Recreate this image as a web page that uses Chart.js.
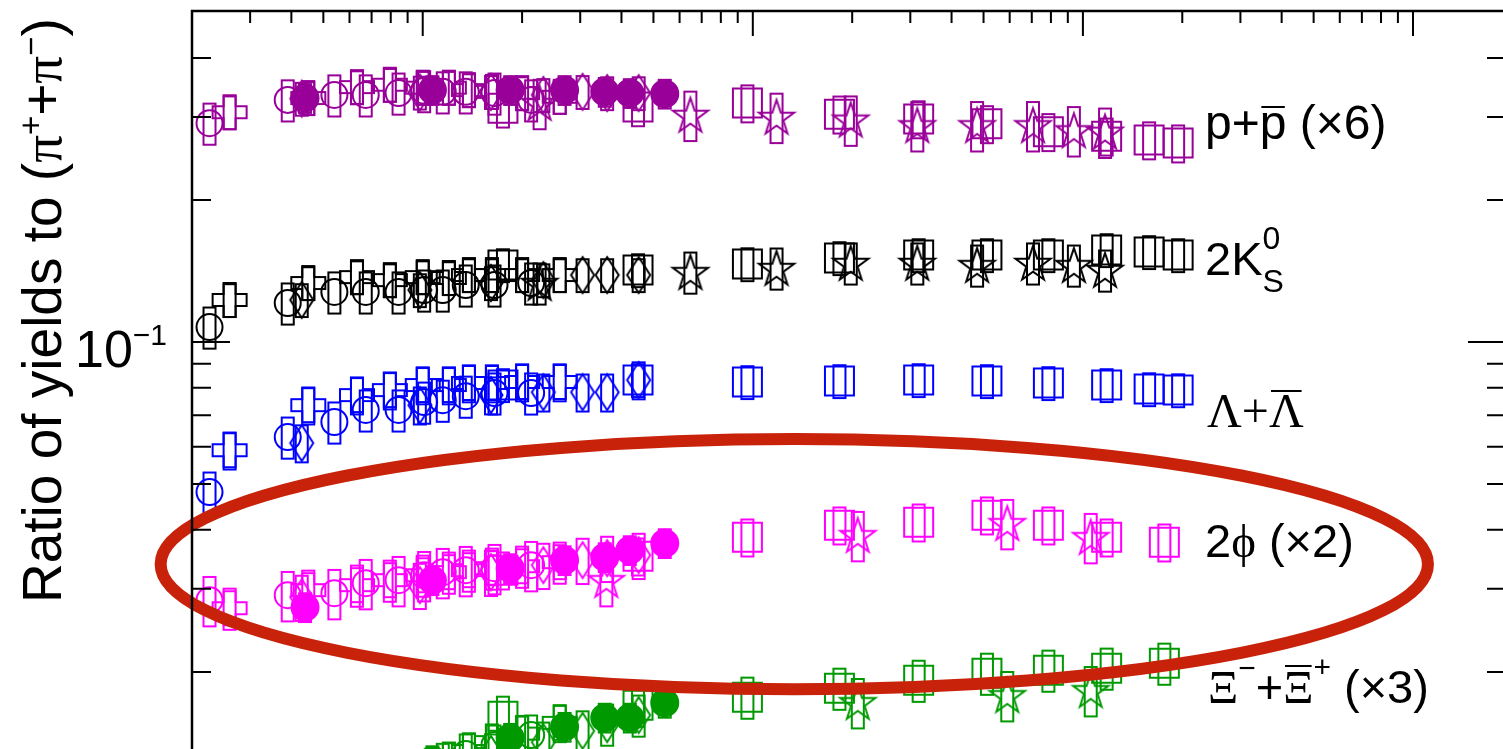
<!DOCTYPE html>
<html>
<head>
<meta charset="utf-8">
<script src="https://cdn.jsdelivr.net/npm/chart.js@4.4.1/dist/chart.umd.min.js"></script>
<style>
  html, body { margin: 0; padding: 0; background: #fff; overflow: hidden; }
  #wrap { position: relative; width: 1506px; height: 749px; }
</style>
</head>
<body>
<div id="wrap"><canvas id="myChart"></canvas></div>
<script>
// multiplicity classes (x), one array per collision system / marker
const xPP7    = [2.26, 3.90, 5.40, 6.72, 8.45, 10.1, 11.5, 13.5, 16.5, 21.3]
const xPP13   = [2.6, 4.5, 6.32, 7.95, 10.0, 12.0, 13.8, 16.2, 20.0, 26.0]
const xPPb    = [4.3, 9.8, 16.1, 23.2, 30.5, 36.2, 45.1]
const xPPbHM  = [4.4, 10.7, 18.4, 26.9, 35.6, 42.4, 54.1]
const xXeXe   = [22.6, 64.7, 118, 198, 315, 478, 706, 939, 1167]
const xXeXeW  = [36, 208, 590, 1056]
const xPbPb   = [17.5, 44.9, 96.3, 183, 318, 512, 786, 1180, 1587, 1943]
const xPbPbW  = [17.5, 44.9, 96.3, 183, 318, 512, 786, 1180, 1765]

// p + pbar (x6)
const protonPP7   = [0.291, 0.326, 0.334, 0.334, 0.337, 0.341, 0.339, 0.339, 0.337, 0.326]
const protonPP13  = [0.307, 0.329, 0.347, 0.351, 0.346, 0.346, 0.342, 0.339, 0.337, 0.331]
const protonPPb   = [0.328, 0.338, 0.339, 0.334, 0.339, 0.337, 0.337]
const protonPPbHM = [0.329, 0.342, 0.342, 0.342, 0.339, 0.337, 0.336]
const protonXeXe  = [0.321, 0.303, 0.300, 0.296, 0.288, 0.288, 0.288, 0.281, 0.279]
const protonPbPb  = [0.313, 0.315, 0.321, 0.304, 0.297, 0.290, 0.279, 0.273, 0.268, 0.264]

// 2 K0S
const kaonPP7  = [0.1076, 0.121, 0.1277, 0.1277, 0.1277, 0.1289, 0.1289, 0.1321, 0.1321, 0.1334]
const kaonPP13 = [0.1228, 0.1334, 0.1373, 0.1353, 0.1373, 0.1367, 0.1387, 0.1387, 0.1387, 0.1387]
const kaonPPb  = [0.1228, 0.1289, 0.1334, 0.1353, 0.1387, 0.1387, 0.1387]
const kaonXeXe = [0.1334, 0.1407, 0.1435, 0.1471, 0.1471, 0.1456, 0.1471, 0.1456, 0.1421]
const kaonPbPb = [0.1456, 0.1421, 0.1463, 0.1507, 0.1529, 0.1529, 0.1529, 0.1567, 0.1552, 0.1529]

// Lambda + Lambdabar
const lambdaPP7  = [0.0481, 0.0629, 0.0677, 0.0718, 0.0718, 0.0746, 0.0753, 0.0768, 0.078, 0.078]
const lambdaPP13 = [0.059, 0.0735, 0.0772, 0.0791, 0.0811, 0.0811, 0.0819, 0.0819, 0.0823, 0.0823]
const lambdaPPb  = [0.0611, 0.0735, 0.0772, 0.0783, 0.0783, 0.0783, 0.0831]
const lambdaPbPb = [0.0811, 0.0831, 0.0823, 0.0827, 0.0831, 0.0827, 0.0819, 0.0811, 0.0795, 0.0791]

// 2 phi (x2)
const phiPP7   = [0.02838, 0.02908, 0.02937, 0.03084, 0.03129, 0.03206, 0.03254, 0.03286, 0.03318, 0.03367]
const phiPP13  = [0.02729, 0.0298, 0.03054, 0.03129, 0.03206, 0.03254, 0.03286, 0.03318, 0.0335, 0.03417]
const phiPPb   = [0.0288, 0.03054, 0.03254, 0.03367, 0.0345, 0.03484, 0.03535]
const phiPPbHM = [0.02743, 0.03129, 0.03318, 0.0345, 0.03501, 0.03623, 0.03749]
const phiXeXe  = [0.03129, 0.03898, 0.04133, 0.0386]
const phiPbPb  = [0.03286, 0.03518, 0.0386, 0.04093, 0.04153, 0.04298, 0.04093, 0.0386, 0.03767]

// Xi + Xibar (x3)
const xiPP7   = [0.0085, 0.0096, 0.0104, 0.0110, 0.0116, 0.0122, 0.0128, 0.0134, 0.0140, 0.0147]
const xiPP13  = [0.0088, 0.0102, 0.0112, 0.0118, 0.0124, 0.0130, 0.0136, 0.0142, 0.0148, 0.0156]
const xiPPb   = [0.0100, 0.0122, 0.0134, 0.0142, 0.0150, 0.0155, 0.0162]
const xiPPbHM = [0.0102, 0.0130, 0.0145, 0.0153, 0.0160, 0.0160, 0.0172]
const xiXeXe  = [null, 0.01725, 0.01785, 0.01829]
const xiPbPb  = [0.01611, 0.0170, 0.01768, 0.01847, 0.0192, 0.01987, 0.02017, 0.02037, 0.02087]

// axis ticks
const xMajorTicks = [10, 100, 1000, 10000]
const xMinorTicks = [3, 4, 5, 6, 7, 8, 9, 20, 30, 40, 50, 60, 70, 80, 90,
    200, 300, 400, 500, 600, 700, 800, 900, 2000, 3000, 4000, 5000, 6000, 7000, 8000, 9000]
const yMajorTicks = [0.1]
const yMinorTicks = [0.02, 0.03, 0.04, 0.05, 0.06, 0.07, 0.08, 0.09, 0.2, 0.3, 0.4]

// highlight ellipse, given by its bounding values
const ellipseX = [1.607, 11100]
const ellipseY = [0.01838, 0.06228]

const SANS = '"Liberation Sans", Arial, Helvetica, sans-serif'
const SERIF = '"Liberation Serif", "DejaVu Serif", "Times New Roman", serif'

const PURPLE = '#990099', BLACK = '#000000', BLUE = '#0000ff', MAGENTA = '#ff00ff', GREEN = '#009900'

const makeMarker = (kind, color) => {
    const c = document.createElement('canvas')
    c.width = 42; c.height = 42
    const g = c.getContext('2d')
    g.strokeStyle = color
    g.lineWidth = 2
    g.translate(21, 21)
    g.beginPath()
    let pts = []
    if (kind === 'cross') {
        const h = 17, a = 6
        pts = [[-a,-h],[a,-h],[a,-a],[h,-a],[h,a],[a,a],[a,h],[-a,h],[-a,a],[-h,a],[-h,-a],[-a,-a]]
    } else if (kind === 'star') {
        for (let i = 0; i < 10; i++) {
            const r = i % 2 ? 7.2 : 18.5
            const ang = -Math.PI / 2 + i * Math.PI / 5
            pts.push([r * Math.cos(ang), r * Math.sin(ang) + 1.5])
        }
    } else if (kind === 'diamond') {
        pts = [[0,-18],[11.5,0],[0,18],[-11.5,0]]
    }
    pts.forEach((p, i) => i ? g.lineTo(p[0], p[1]) : g.moveTo(p[0], p[1]))
    g.closePath()
    g.stroke()
    return c
}

const points = (xs, ys) => xs.map((x, i) => ({ x, y: ys[i] })).filter(p => p.y != null)

const series = (label, xs, ys, marker, color, syst) => {
    const ds = {
        label,
        data: points(xs, ys),
        borderColor: color,
        backgroundColor: 'rgba(0,0,0,0)',
        borderWidth: 2,
        pointRadius: 13,
        syst,
        boxHalf: 6,
    }
    if (marker === 'circle') ds.pointStyle = 'circle'
    else if (marker === 'filled') { ds.pointStyle = 'circle'; ds.backgroundColor = color; ds.pointRadius = 13.5 }
    else if (marker === 'square') { ds.pointStyle = 'rect'; ds.pointRadius = 20.5 }
    else { ds.pointStyle = makeMarker(marker, color); ds.pointRadius = 17 }
    return ds
}

const datasets = [
    series('p pp7', xPP7, protonPP7, 'circle', PURPLE, 0.10),
    series('p pp13', xPP13, protonPP13, 'cross', PURPLE, 0.08),
    series('p pPb', xPPb, protonPPb, 'diamond', PURPLE, 0.08),
    series('p pPb HM', xPPbHM, protonPPbHM, 'filled', PURPLE, 0.07),
    series('p XeXe', xXeXe, protonXeXe, 'star', PURPLE, 0.12),
    series('p PbPb', xPbPb, protonPbPb, 'square', PURPLE, 0.09),

    series('K pp7', xPP7, kaonPP7, 'circle', BLACK, 0.10),
    series('K pp13', xPP13, kaonPP13, 'cross', BLACK, 0.08),
    series('K pPb', xPPb, kaonPPb, 'diamond', BLACK, 0.08),
    series('K XeXe', xXeXe, kaonXeXe, 'star', BLACK, 0.10),
    series('K PbPb', xPbPb, kaonPbPb, 'square', BLACK, 0.08),

    series('L pp7', xPP7, lambdaPP7, 'circle', BLUE, 0.10),
    series('L pp13', xPP13, lambdaPP13, 'cross', BLUE, 0.09),
    series('L pPb', xPPb, lambdaPPb, 'diamond', BLUE, 0.09),
    series('L PbPb', xPbPb, lambdaPbPb, 'square', BLUE, 0.08),

    series('phi pp7', xPP7, phiPP7, 'circle', MAGENTA, 0.12),
    series('phi pp13', xPP13, phiPP13, 'cross', MAGENTA, 0.10),
    series('phi pPb', xPPb, phiPPb, 'diamond', MAGENTA, 0.11),
    series('phi pPb HM', xPPbHM, phiPPbHM, 'filled', MAGENTA, 0.07),
    series('phi XeXe', xXeXeW, phiXeXe, 'star', MAGENTA, 0.12),
    series('phi PbPb', xPbPbW, phiPbPb, 'square', MAGENTA, 0.09),

    series('Xi pp7', xPP7, xiPP7, 'circle', GREEN, 0.10),
    series('Xi pp13', xPP13, xiPP13, 'cross', GREEN, 0.09),
    series('Xi pPb', xPPb, xiPPb, 'diamond', GREEN, 0.10),
    series('Xi pPb HM', xPPbHM, xiPPbHM, 'filled', GREEN, 0.07),
    series('Xi XeXe', xXeXeW, xiXeXe, 'star', GREEN, 0.12),
    series('Xi PbPb', xPbPbW, xiPbPb, 'square', GREEN, 0.10),
]

// systematic boxes behind markers
const systBoxes = {
    id: 'systBoxes',
    beforeDatasetsDraw(chart) {
        const { ctx, chartArea: a, scales: { x, y } } = chart
        ctx.save()
        ctx.beginPath()
        ctx.rect(a.left, a.top, a.right - a.left, a.bottom - a.top)
        ctx.clip()
        ctx.lineWidth = 2
        chart.data.datasets.forEach(ds => {
            ctx.strokeStyle = ds.borderColor
            ds.data.forEach(p => {
                const px = x.getPixelForValue(p.x)
                const top = y.getPixelForValue(p.y * (1 + ds.syst))
                const bot = y.getPixelForValue(p.y * (1 - ds.syst))
                ctx.strokeRect(px - ds.boxHalf, top, 2 * ds.boxHalf, bot - top)
            })
        })
        ctx.restore()
    }
}

const drawRuns = (ctx, x, y, runs) => {
    runs.forEach(r => {
        ctx.font = r.font
        const w = ctx.measureText(r.t).width
        ctx.fillText(r.t, x, y + (r.dy || 0))
        if (r.bar) ctx.fillRect(x + w * 0.06, y + r.bar, w * 0.88, 2)
        x += r.adv != null ? r.adv : w
    })
}

const frameAndText = {
    id: 'frameAndText',
    afterDraw(chart) {
        const { ctx, chartArea: a, scales: { x, y } } = chart
        ctx.save()

        // highlight ellipse
        const ex0 = x.getPixelForValue(ellipseX[0]), ex1 = x.getPixelForValue(ellipseX[1])
        const ey0 = y.getPixelForValue(ellipseY[1]), ey1 = y.getPixelForValue(ellipseY[0])
        ctx.strokeStyle = '#c8230a'
        ctx.lineWidth = 12
        ctx.beginPath()
        ctx.ellipse((ex0 + ex1) / 2, (ey0 + ey1) / 2, (ex1 - ex0) / 2, (ey1 - ey0) / 2, 0, 0, 2 * Math.PI)
        ctx.stroke()

        // frame
        ctx.strokeStyle = '#000'
        ctx.lineWidth = 2.5
        ctx.beginPath()
        ctx.moveTo(a.left, a.bottom)
        ctx.lineTo(a.left, a.top)
        ctx.lineTo(a.right, a.top)
        ctx.stroke()

        ctx.lineWidth = 2
        ctx.beginPath()
        xMajorTicks.forEach(v => { const p = x.getPixelForValue(v); ctx.moveTo(p, a.top); ctx.lineTo(p, a.top + 25) })
        xMinorTicks.forEach(v => { const p = x.getPixelForValue(v); ctx.moveTo(p, a.top); ctx.lineTo(p, a.top + 12) })
        yMajorTicks.forEach(v => {
            const p = y.getPixelForValue(v)
            ctx.moveTo(a.left, p); ctx.lineTo(a.left + 38, p)
            ctx.moveTo(a.right, p); ctx.lineTo(a.right - 38, p)
        })
        yMinorTicks.forEach(v => {
            const p = y.getPixelForValue(v)
            ctx.moveTo(a.left, p); ctx.lineTo(a.left + 19, p)
            ctx.moveTo(a.right, p); ctx.lineTo(a.right - 19, p)
        })
        ctx.stroke()

        ctx.fillStyle = '#000'
        ctx.textBaseline = 'alphabetic'

        // y tick label 10^-1
        const p01 = y.getPixelForValue(0.1)
        drawRuns(ctx, 75, p01 + 25, [
            { t: '10', font: `52px ${SANS}` },
            { t: '\u22121', font: `30px ${SANS}`, dy: -22 },
        ])

        // y axis title
        ctx.save()
        ctx.translate(61, 603)
        ctx.rotate(-Math.PI / 2)
        drawRuns(ctx, 0, 0, [
            { t: 'Ratio of yields to (', font: `55px ${SANS}` },
            { t: '\u03c0', font: `55px ${SERIF}` },
            { t: '+', font: `33px ${SANS}`, dy: -19 },
            { t: '+', font: `55px ${SANS}` },
            { t: '\u03c0', font: `55px ${SERIF}` },
            { t: '\u2212', font: `33px ${SANS}`, dy: -19 },
            { t: ')', font: `55px ${SANS}` },
        ])
        ctx.restore()

        // species labels
        const L = 1205
        const F = `47px ${SANS}`
        drawRuns(ctx, L, 139, [
            { t: 'p+', font: `48px ${SANS}` },
            { t: 'p', font: `48px ${SANS}`, bar: -33 },
            { t: ' (\u00d76)', font: `48px ${SANS}` },
        ])
        drawRuns(ctx, L, 275, [
            { t: '2K', font: F },
            { t: '0', font: `32px ${SANS}`, dy: -26, adv: 0 },
            { t: 'S', font: `32px ${SANS}`, dy: 17 },
        ])
        drawRuns(ctx, L + 2, 427, [
            { t: '\u039b+', font: `48px ${SERIF}` },
            { t: '\u039b', font: `48px ${SERIF}`, bar: -37 },
        ])
        drawRuns(ctx, L, 557, [
            { t: '2', font: F },
            { t: '\u03d5', font: `47px ${SERIF}` },
            { t: ' (\u00d72)', font: F },
        ])
        drawRuns(ctx, L + 3, 703, [
            { t: '\u039e', font: `47px ${SERIF}` },
            { t: '\u2212', font: `30px ${SANS}`, dy: -25 },
            { t: '+', font: F },
            { t: '\u039e', font: `47px ${SERIF}`, bar: -38 },
            { t: '+', font: `30px ${SANS}`, dy: -26 },
            { t: ' (\u00d73)', font: F },
        ])

        ctx.restore()
    }
}

const config = {
    type: 'scatter',
    data: { datasets },
    options: {
        responsive: true,
        maintainAspectRatio: false,
        animation: false,
        layout: { autoPadding: false, padding: { left: 192, top: 11, right: 0, bottom: 0 } },
        scales: {
            x: { type: 'logarithmic', min: 2, max: 19130, display: false },
            y: { type: 'logarithmic', min: 0.01373, max: 0.503, display: false },
        },
        plugins: { legend: { display: false }, tooltip: { enabled: false } },
    },
    plugins: [systBoxes, frameAndText],
}

const myChart = new Chart(document.getElementById('myChart'), config)
</script>
</body>
</html>
